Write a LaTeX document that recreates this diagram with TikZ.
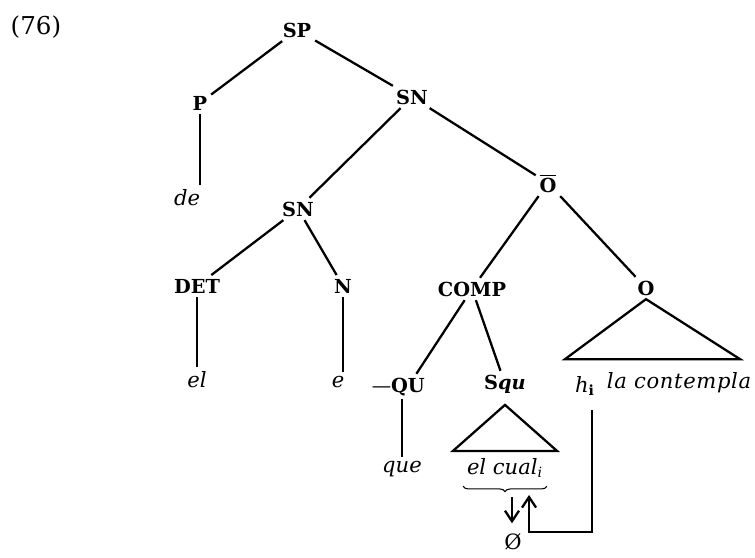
\documentclass[tikz,border=0pt]{standalone}
\usepackage{fontspec}
\setmainfont{DejaVu Serif}
\usepackage{amsmath}
\usetikzlibrary{positioning,arrows.meta,decorations.pathreplacing}

\begin{document}
\begin{tikzpicture}[
    cat/.style={inner sep=2pt, anchor=base, font=\fontsize{11}{13}\selectfont\bfseries},
    word/.style={inner sep=2pt, anchor=base, font=\fontsize{12}{14}\selectfont\itshape},
    branch/.style={line width=1.3pt},
    arrow/.style={-{Straight Barb[length=6pt,width=8pt]}, line width=1.3pt}
]
    \useasboundingbox (0,0) rectangle (15.1,-11.14);

    \node[font=\fontsize{14}{16}\selectfont] (ex) at (0.72,-0.54) {(76)};

    \node[cat] (sp) at (5.94,-0.74) {SP};
    \node[cat] (p) at (4.00,-2.20) {P};
    \node[cat] (sn1) at (8.24,-2.08) {SN};
    \node[word] (de) at (3.74,-4.10) {de};
    \node[cat] (sn2) at (5.96,-4.32) {SN};
    \node[cat] (obar) at (10.96,-3.84) {$\overline{\textbf{O}}$};
    \node[cat] (det) at (3.94,-5.86) {DET};
    \node[cat] (n) at (6.86,-5.86) {N};
    \node[cat] (comp) at (9.44,-5.92) {COMP};
    \node[cat] (o) at (12.92,-5.90) {O};
    \node[word] (el) at (3.94,-7.74) {el};
    \node[word] (e) at (6.76,-7.74) {e};
    \node[cat] (qu) at (8.16,-7.84) {\llap{\mdseries---}QU};
    \node[cat] (squ) at (10.10,-7.78) {S\textit{qu}};
    \node[word] (hi) at (11.70,-7.84) {h\textsubscript{\upshape\bfseries i}};
    \node[word] (lacont) at (13.58,-7.76) {\addfontfeatures{LetterSpace=3}la contempla};
    \node[word] (que) at (8.04,-9.44) {que};
    \node[word] (elcual) at (10.10,-9.48) {el cual\textsubscript{i}};
    \node[font=\fontsize{12}{14}\selectfont, anchor=base] (nul) at (10.26,-10.98) {\O};

    \coordinate (cualtip) at (10.24,-9.94);
    \coordinate (hroot) at (11.84,-8.20);
    \coordinate (hook) at (10.58,-10.64);

    \draw[branch] (sp) -- (p);
    \draw[branch] (sp) -- (sn1);
    \draw[branch] (p) -- (p |- de.north);
    \draw[branch] (sn1) -- (sn2);
    \draw[branch] (sn1) -- (obar);
    \draw[branch] (sn2) -- (det);
    \draw[branch] (sn2) -- (n);
    \draw[branch] (det) -- (det |- el.north);
    \draw[branch] (n) -- (n |- e.north);
    \draw[branch] (obar) -- (comp);
    \draw[branch] (obar) -- (o);
    \draw[branch] (comp) -- (qu);
    \draw[branch] (comp) -- (squ);
    \draw[branch] (que |- qu.south) -- (que);

    \draw[branch] ([yshift=-0.16cm]squ.south) -- ++(-1.04,-0.92) -- ++(2.08,0) -- cycle;
    \draw[branch] (o.south) -- ++(-1.62,-1.2) -- ++(3.5,0) -- cycle;

    \draw[decorate, decoration={brace, mirror, amplitude=3pt}, line width=0.6pt]
        ([yshift=-3pt]elcual.south west) -- ([yshift=-3pt]elcual.south east);
    \draw[arrow, shorten >=2pt] (cualtip) -- (cualtip |- nul.north);
    \draw[arrow] (hroot) |- (hook) -- ++(0,0.74);
\end{tikzpicture}
\end{document}
